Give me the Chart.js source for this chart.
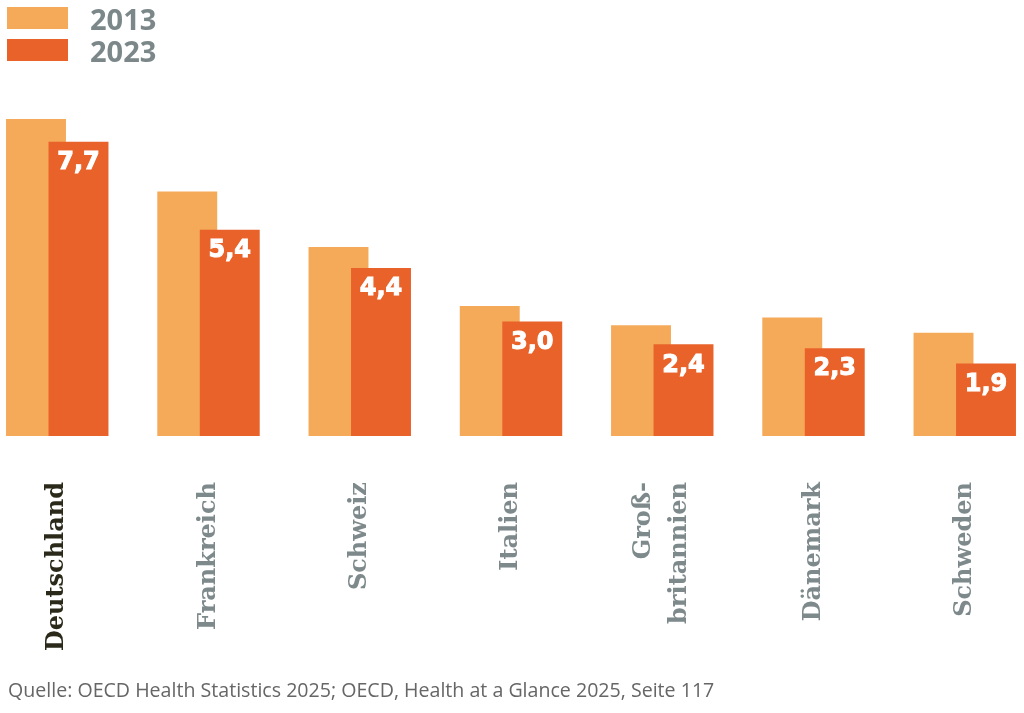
<!DOCTYPE html>
<html>
<head>
<meta charset="utf-8">
<script src="https://cdn.jsdelivr.net/npm/chart.js@4.4.1/dist/chart.umd.min.js"></script>
<style>
    html, body { margin: 0; padding: 0; background: #fff; }
    #wrap { position: relative; width: 1024px; height: 713px; overflow: hidden; }
    #chart { position: absolute; left: 0; top: 0; }
    #legend { position: absolute; left: 7px; top: 2px; font-family: "Open Sans", sans-serif; font-weight: 700; font-size: 29px; color: #7b8788; }
    .row { display: flex; align-items: center; height: 32px; }
    .box { width: 61px; height: 22px; margin-right: 22px; }
    #source { position: absolute; left: 8px; top: 676px; font-family: "Open Sans", sans-serif; font-size: 19.6px; color: #666; white-space: nowrap; }
</style>
</head>
<body>
<div id="wrap">
    <canvas id="chart" width="1024" height="713"></canvas>
    <div id="legend"></div>
    <div id="source">Quelle: OECD Health Statistics 2025; OECD, Health at a Glance 2025, Seite 117</div>
</div>
<script>
// categories and values
var countries = ['Deutschland', 'Frankreich', 'Schweiz', 'Italien', ['Groß-', 'britannien'], 'Dänemark', 'Schweden'];
var seriesNames = ['2013', '2023'];
var values2013 = [8.3, 6.4, 4.95, 3.4, 2.9, 3.1, 2.7];
var values2023 = [7.7, 5.4, 4.4, 3.0, 2.4, 2.3, 1.9];
var colors = ['#F5AA5A', '#E8622A'];

var LABEL_SIZE = 24;
var LABEL_LINE = 1.5;

/**
 * Build the HTML legend from the series names.
 */
function makeLegend() {
    var legend = document.getElementById('legend');
    seriesNames.forEach(function (name, i) {
        var row = document.createElement('div');
        row.className = 'row';
        var box = document.createElement('div');
        box.className = 'box';
        box.style.background = colors[i];
        row.appendChild(box);
        row.appendChild(document.createTextNode(name));
        legend.appendChild(row);
    });
}

// draw 2013 first so the 2023 bars overlap them, then the white value labels
var overlapBars = {
    id: 'overlapBars',
    afterUpdate: function (chart) {
        // bars are laid out by now: centre multi-line labels on their group
        var axis = chart.scales.x;
        var unit = axis.width / (axis.max - axis.min);
        axis.ticks.forEach(function (t, i) {
            var lines = Array.isArray(countries[i]) ? countries[i].length : 1;
            t.value = i - (lines - 1) * LABEL_SIZE * LABEL_LINE / 2 / unit;
        });
    },
    beforeDatasetsDraw: function (chart) {
        chart.getDatasetMeta(0).controller.draw();
        chart.getDatasetMeta(1).controller.draw();
        return false;
    },
    afterDraw: function (chart) {
        var ctx = chart.ctx;
        var meta = chart.getDatasetMeta(1);
        ctx.save();
        ctx.fillStyle = '#fff';
        ctx.strokeStyle = '#fff';
        ctx.lineWidth = 1;
        ctx.font = 'bold 24px "DejaVu Sans"';
        ctx.textAlign = 'center';
        ctx.textBaseline = 'middle';
        meta.data.forEach(function (bar, i) {
            var txt = values2023[i].toFixed(1).replace('.', ',');
            ctx.fillText(txt, bar.x, bar.y + 21);
            ctx.strokeText(txt, bar.x, bar.y + 21);
        });
        ctx.restore();
    }
};

function toPoints(values) {
    return values.map(function (v, i) {
        return { x: i, y: v };
    });
}

makeLegend();

var ctxC = document.getElementById('chart').getContext('2d');
new Chart(ctxC, {
    type: 'bar',
    data: {
        datasets: [{
            label: seriesNames[0],
            data: toPoints(values2013),
            backgroundColor: colors[0]
        }, {
            label: seriesNames[1],
            data: toPoints(values2023),
            backgroundColor: colors[1]
        }]
    },
    options: {
        responsive: false,
        animation: false,
        categoryPercentage: 0.562,
        barPercentage: 1.41,
        layout: { padding: { top: 54, left: 0, right: 0, bottom: 0 } },
        plugins: {
            legend: { display: false },
            tooltip: { enabled: false }
        },
        scales: {
            x: {
                type: 'linear',
                offset: false,
                min: -0.3785,
                max: 6.3917,
                grid: { display: false, drawTicks: false, offset: false },
                border: { display: false },
                afterBuildTicks: function (axis) {
                    axis.ticks = countries.map(function (c, i) { return { value: i }; });
                },
                afterFit: function (axis) {
                    // keep the plot full width and the baseline at y=436
                    axis.height = 713 - 436;
                    axis.paddingLeft = 0;
                    axis.paddingRight = 0;
                },
                ticks: {
                    autoSkip: false,
                    minRotation: 90,
                    maxRotation: 90,
                    padding: 46,
                    font: { family: '"DejaVu Serif"', weight: 'bold', size: LABEL_SIZE, lineHeight: LABEL_LINE },
                    color: function (c) {
                        return c.index === 0 ? '#2b2a1a' : '#7d898b';
                    },
                    callback: function (value) {
                        return countries[value];
                    }
                }
            },
            y: {
                display: false,
                min: 0,
                max: 10
            }
        }
    },
    plugins: [overlapBars]
});
</script>
</body>
</html>
